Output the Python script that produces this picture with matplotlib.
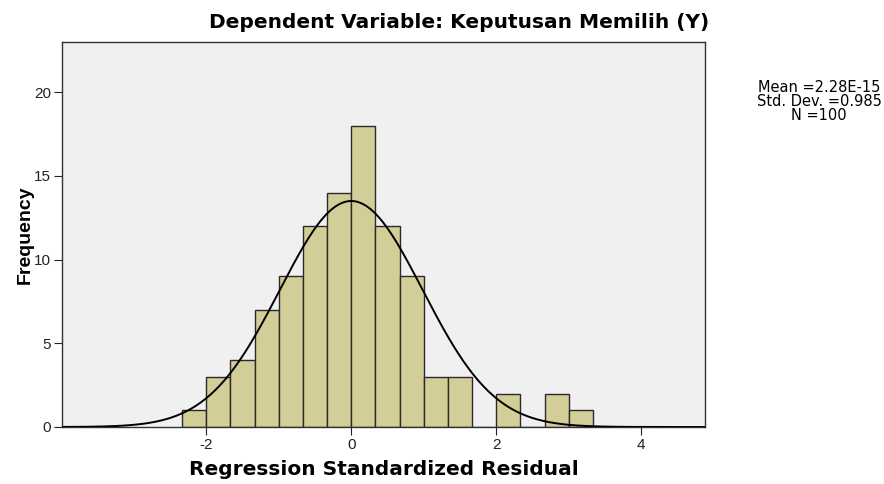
import numpy as np
import matplotlib.pyplot as plt

plt.rcParams['font.family'] = ['Liberation Sans', 'DejaVu Sans']
plt.rcParams['axes.unicode_minus'] = False

# histogram of regression standardized residuals (bin width 1/3)
bin_edges = [-7/3, -2, -5/3, -4/3, -1, -2/3, -1/3, 0, 1/3, 2/3, 1, 4/3, 5/3, 2, 7/3, 8/3, 3, 10/3]
counts = [1, 3, 4, 7, 9, 12, 14, 18, 12, 9, 3, 3, 0, 2, 0, 2, 1]
mean = 2.28e-15
std = 0.985
n = 100

fig = plt.figure(figsize=(8.84, 4.84), dpi=100)
ax = fig.add_axes([62/884, 1 - 427/484, (705-62)/884, (427-42)/484])
ax.set_facecolor('#f0f0f0')

widths = np.diff(bin_edges)
ax.bar(bin_edges[:-1], counts, width=widths, align='edge',
       color='#d3ce98', edgecolor='#2a2a2a', linewidth=1.0, zorder=2)

# normal curve
xs = np.linspace(-4.0, 4.9, 400)
bw = 1/3
ys = n * bw * np.exp(-0.5 * ((xs - mean) / std) ** 2) / (std * np.sqrt(2 * np.pi))
ax.plot(xs, ys, color='black', lw=1.4, zorder=3)

ax.set_xlim(-3.99, 4.88)
ax.set_ylim(0, 23)
ax.set_xticks([-2, 0, 2, 4])
ax.set_yticks([0, 5, 10, 15, 20])
ax.tick_params(labelsize=11, length=6, color='#222222', labelcolor='#222222', direction='out', pad=2)
for s in ax.spines.values():
    s.set_color('#333333')
    s.set_linewidth(1.0)

bold = dict(family='DejaVu Sans', fontweight='bold')
ax.set_xlabel('Regression Standardized Residual', fontsize=14.5, labelpad=6, **bold)
ax.set_ylabel('Frequency', fontsize=14, fontweight='bold', labelpad=0)
fig.text(459/884, 1 - 22/484, 'Dependent Variable: Keputusan Memilih (Y)',
         fontsize=14.5, ha='center', va='center', **bold)

for i, line in enumerate(['Mean =2.28E-15', 'Std. Dev. =0.985', 'N =100']):
    fig.text(819/884, 1 - (87 + 14 * i)/484, line, fontsize=10.5, family='DejaVu Sans',
             ha='center', va='center')

fig.savefig('out.png', dpi=100)
